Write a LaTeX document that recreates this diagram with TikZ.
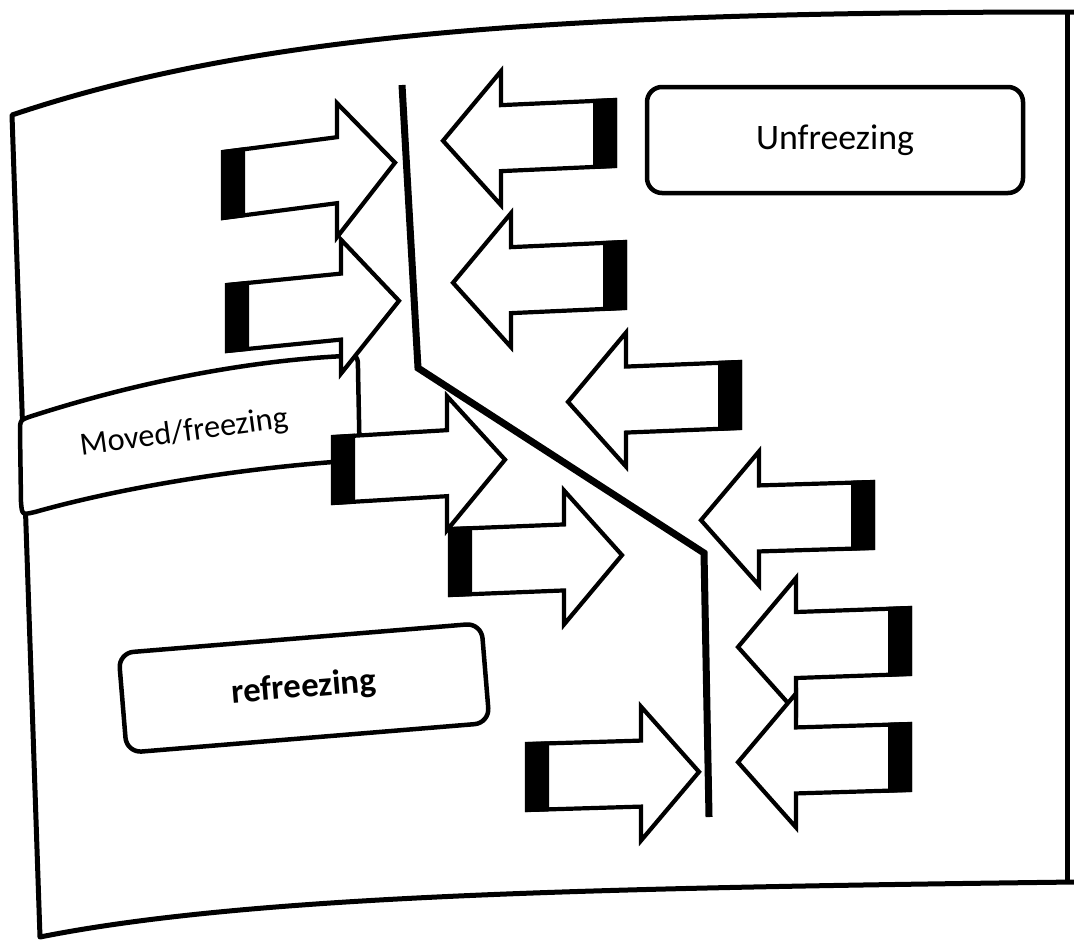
\documentclass[tikz,border=0pt]{standalone}
\usepackage{fontspec}
\setmainfont{Carlito}
\begin{document}
\begin{tikzpicture}[x=0.1mm, y=-0.1mm,
  frameline/.style={line width=0.5mm, line join=round},
  boxline/.style={line width=0.45mm, fill=white},
  arrowline/.style={line width=0.42mm, line join=miter, fill=white},
  shiftline/.style={line width=0.7mm, line join=miter},
  labelbox/.style={draw, line width=0.45mm, rounded corners=1.5mm, fill=white, inner sep=0pt},
  rarrow/.pic={
    \filldraw[arrowline] (0,-33) -- (114,-33) -- (114,-67) -- (172,0)
      -- (114,67) -- (114,33) -- (0,33) -- cycle;
    \fill (-2,-35) rectangle (22,35);
  },
  larrow/.pic={
    \filldraw[arrowline] (0,-33) -- (-114,-33) -- (-114,-67) -- (-172,0)
      -- (-114,67) -- (-114,33) -- (0,33) -- cycle;
    \fill (2,-35) rectangle (-22,35);
  }
]
\useasboundingbox (0,0) rectangle (1074,943);

% outer frame
\draw[frameline] (1074,12) .. controls (550,12) and (250,35) .. (12,115)
  -- (40,937) .. controls (250,895) and (600,888) .. (1074,882);
\draw[frameline] (1067,12) -- (1067,884);

% label boxes
\node[labelbox, minimum width=37.6mm, minimum height=10.6mm,
      font=\fontsize{10.2}{12}\selectfont] (unfreeze) at (835,140) {Unfreezing};
\node[labelbox, minimum width=36.4mm, minimum height=10mm, rotate=4.7,
      font=\fontsize{9.9}{12}\selectfont\bfseries] (refreeze) at (304,688) {refreezing};

\filldraw[boxline] (20,432) .. controls (20,420) .. (32,416)
  .. controls (150,378) and (260,360) .. (345,356)
  .. controls (358,356) .. (358,370) -- (360,470) -- (333,462)
  .. controls (230,470) and (120,488) .. (35,512)
  .. controls (22,515) .. (21,502) -- cycle;
\node[rotate=7.6, font=\fontsize{9.2}{11}\selectfont, inner sep=0pt] (moved) at (184,433) {Moved/freezing};

% forces pushing from the left
\pic[shift={(223,185)}, yslant=0.13] {rarrow};
\pic[shift={(227,318)}, yslant=0.10] {rarrow};
\pic[shift={(333,470)}, yslant=0.06] {rarrow};
\pic[shift={(450,562)}, yslant=0.04] {rarrow};
\pic[shift={(527,777)}, yslant=0.03] {rarrow};

% forces pushing from the right
\pic[shift={(615,133)}, yslant=0.045] {larrow};
\pic[shift={(625,275)}, yslant=0.045] {larrow};
\pic[shift={(740,395)}, yslant=0.04] {larrow};
\pic[shift={(873,515)}, yslant=0.03] {larrow};
\pic[shift={(910,641)}, yslant=0.035] {larrow};
\pic[shift={(910,757)}, yslant=0.03] {larrow};

% boundary being shifted
\draw[shiftline] (402,85) -- (418,368) -- (704,553) -- (709,817);
\end{tikzpicture}
\end{document}
